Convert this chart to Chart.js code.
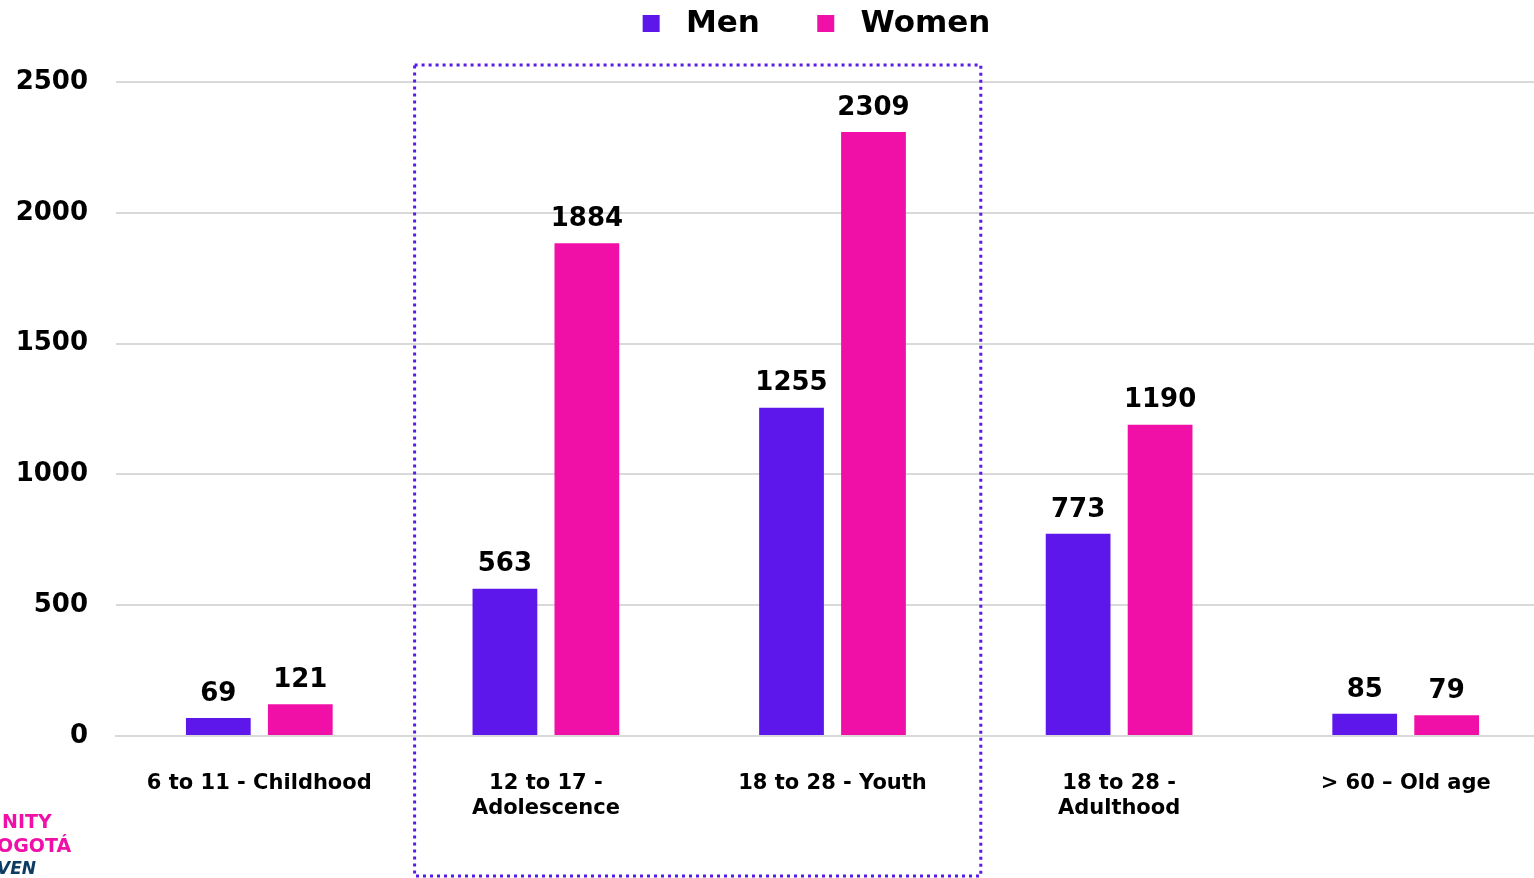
<!DOCTYPE html>
<html>
<head>
<meta charset="utf-8">
<script src="https://cdn.jsdelivr.net/npm/chart.js@4.4.1/dist/chart.umd.min.js"></script>
<style>
    html, body { margin: 0; padding: 0; background: #fff; overflow: hidden; }
    #wrap { width: 1549px; height: 878px; position: relative; }
</style>
</head>
<body>
<div id="wrap"><canvas id="ageChart"></canvas></div>
<script>
// 데이터
const categories = [
    '6 to 11 - Childhood',
    ['12 to 17 -', 'Adolescence'],
    '18 to 28 - Youth',
    ['18 to 28 -', 'Adulthood'],
    '> 60 – Old age'
];
const menValues = [69, 563, 1255, 773, 85];
const womenValues = [121, 1884, 2309, 1190, 79];
const yTicks = [0, 500, 1000, 1500, 2000, 2500];

const MEN_COLOR = '#5E17EB';
const WOMEN_COLOR = '#F00FA7';
const FONT = "'DejaVu Sans', sans-serif";

// 범례 아래 여백 + 오른쪽으로 이동
const legendSpacer = {
    id: 'legendSpacer',
    beforeInit(chart) {
        const fit = chart.legend.fit;
        chart.legend.fit = function () {
            fit.call(this);
            this.height += 33;
        };
    },
    afterLayout(chart) {
        chart.legend.left += 42;
        chart.legend.right += 42;
    }
};

// 막대 위 숫자
const valueLabels = {
    id: 'valueLabels',
    afterDatasetsDraw(chart) {
        const ctx = chart.ctx;
        ctx.save();
        ctx.font = `bold 26px ${FONT}`;
        ctx.fillStyle = '#000';
        ctx.textAlign = 'center';
        ctx.textBaseline = 'bottom';
        chart.data.datasets.forEach((ds, i) => {
            chart.getDatasetMeta(i).data.forEach((bar, j) => {
                ctx.fillText(ds.data[j], bar.x, bar.y - 11);
            });
        });
        ctx.restore();
    }
};

// 점선 박스 + 로고 조각
const highlightBox = {
    id: 'highlightBox',
    afterDraw(chart) {
        const ctx = chart.ctx;
        const x = chart.scales.x;
        const y = chart.scales.y;
        const left = (x.getPixelForTick(0) + x.getPixelForTick(1)) / 2 + 12;
        const right = (x.getPixelForTick(2) + x.getPixelForTick(3)) / 2 + 5;
        const top = y.getPixelForValue(2500) - 17;
        const bottom = chart.height - 2;
        ctx.save();
        ctx.strokeStyle = '#5B1AE8';
        ctx.lineWidth = 3;
        ctx.setLineDash([3, 4]);
        ctx.strokeRect(left, top, right - left, bottom - top);
        ctx.setLineDash([]);

        ctx.textBaseline = 'alphabetic';
        ctx.textAlign = 'left';
        ctx.font = `bold 19px ${FONT}`;
        ctx.fillStyle = '#F00FA7';
        ctx.fillText('NITY', 2, 828);
        ctx.fillText('OGOTÁ', -3, 852);
        ctx.font = `italic bold 17px ${FONT}`;
        ctx.fillStyle = '#0C3B63';
        ctx.fillText('VEN', -3, 874);
        ctx.restore();
    }
};

const ctx = document.getElementById('ageChart').getContext('2d');
new Chart(ctx, {
    type: 'bar',
    data: {
        labels: categories,
        datasets: [
            {
                label: 'Men',
                data: menValues,
                backgroundColor: MEN_COLOR,
                categoryPercentage: 0.572,
                barPercentage: 0.79
            },
            {
                label: 'Women',
                data: womenValues,
                backgroundColor: WOMEN_COLOR,
                categoryPercentage: 0.572,
                barPercentage: 0.79
            }
        ]
    },
    options: {
        responsive: true,
        maintainAspectRatio: false,
        animation: false,
        layout: { padding: 0 },
        plugins: {
            legend: {
                display: true,
                position: 'top',
                labels: {
                    boxWidth: 17,
                    boxHeight: 17,
                    color: '#000',
                    padding: 8,
                    font: { family: FONT, size: 31, weight: 'bold' },
                    generateLabels(chart) {
                        return chart.data.datasets.map((ds, i) => ({
                            text: ' ' + ds.label + (i === 0 ? '    \u2009' : ''),
                            fillStyle: ds.backgroundColor,
                            strokeStyle: ds.backgroundColor,
                            lineWidth: 0,
                            datasetIndex: i
                        }));
                    }
                }
            },
            tooltip: { enabled: false }
        },
        scales: {
            x: {
                grid: { display: false },
                border: { display: true, color: '#d9d9d9', width: 2 },
                ticks: {
                    color: '#000',
                    padding: 27,
                    maxRotation: 0,
                    autoSkip: false,
                    font: { family: FONT, size: 21, weight: 'bold', lineHeight: 1.2 }
                },
                afterFit(scale) { scale.height = 142; }
            },
            y: {
                min: 0,
                max: 2500,
                afterBuildTicks(scale) {
                    scale.ticks = yTicks.map(v => ({ value: v }));
                },
                grid: { color: '#d9d9d9', lineWidth: 2, drawTicks: false },
                border: { display: false },
                ticks: {
                    color: '#000',
                    padding: 28,
                    font: { family: FONT, size: 26, weight: 'bold' },
                    callback: v => String(v)
                },
                afterFit(scale) { scale.width = 116; }
            }
        }
    },
    plugins: [legendSpacer, valueLabels, highlightBox]
});
</script>
</body>
</html>
